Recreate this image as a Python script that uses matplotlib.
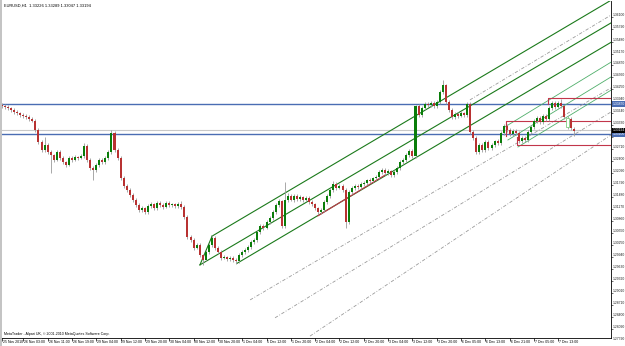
import matplotlib
matplotlib.use("Agg")
import matplotlib.pyplot as plt
import numpy as np
from matplotlib.patches import Rectangle

# EURUSD H1 candles, 25 Nov 2010 .. 7 Dec 2010
opens = [
    1.3385, 1.3382, 1.3380, 1.3377, 1.3372, 1.3367, 1.3364, 1.3359, 1.3357, 1.3354,
    1.3349, 1.3344, 1.3321, 1.3290, 1.3269, 1.3282, 1.3264, 1.3256, 1.3244, 1.3264,
    1.3249, 1.3238, 1.3231, 1.3249, 1.3244, 1.3251, 1.3249, 1.3254, 1.3280, 1.3244,
    1.3223, 1.3218, 1.3231, 1.3244, 1.3238, 1.3249, 1.3264, 1.3313, 1.3269, 1.3249,
    1.3197, 1.3177, 1.3167, 1.3154, 1.3141, 1.3128, 1.3115, 1.3120, 1.3110, 1.3125,
    1.3130, 1.3120, 1.3133, 1.3128, 1.3123, 1.3133, 1.3128, 1.3130, 1.3125, 1.3130,
    1.3123, 1.3097, 1.3046, 1.3038, 1.3018, 1.3025, 1.2999, 1.2987, 1.3007, 1.3025,
    1.3043, 1.3018, 1.3007, 1.2992, 1.2994, 1.2989, 1.2992, 1.2987, 1.2984, 1.2999,
    1.3007, 1.3012, 1.3020, 1.3033, 1.3038, 1.3059, 1.3074, 1.3069, 1.3084, 1.3095,
    1.3110, 1.3128, 1.3138, 1.3074, 1.3141, 1.3151, 1.3141, 1.3151, 1.3143, 1.3148,
    1.3141, 1.3146, 1.3136, 1.3130, 1.3120, 1.3110, 1.3115, 1.3136, 1.3151, 1.3167,
    1.3182, 1.3172, 1.3177, 1.3167, 1.3084, 1.3161, 1.3172, 1.3177, 1.3174, 1.3182,
    1.3185, 1.3192, 1.3190, 1.3197, 1.3200, 1.3213, 1.3218, 1.3210, 1.3215, 1.3205,
    1.3213, 1.3223, 1.3238, 1.3244, 1.3256, 1.3267, 1.3254, 1.3382, 1.3359, 1.3377,
    1.3388, 1.3385, 1.3390, 1.3382, 1.3393, 1.3418, 1.3436, 1.3393, 1.3372, 1.3354,
    1.3362, 1.3357, 1.3364, 1.3359, 1.3388, 1.3316, 1.3300, 1.3264, 1.3282, 1.3269,
    1.3290, 1.3274, 1.3282, 1.3292, 1.3287, 1.3313, 1.3331, 1.3321, 1.3310, 1.3318,
    1.3313, 1.3292, 1.3300, 1.3295, 1.3316, 1.3328, 1.3344, 1.3352, 1.3341, 1.3357,
    1.3349, 1.3377, 1.3390, 1.3380, 1.3390, 1.3382, 1.3328, 1.3349, 1.3323,
]
highs = [
    1.3390, 1.3387, 1.3384, 1.3381, 1.3377, 1.3371, 1.3368, 1.3364, 1.3361, 1.3358,
    1.3353, 1.3348, 1.3326, 1.3296, 1.3303, 1.3287, 1.3270, 1.3260, 1.3270, 1.3268,
    1.3254, 1.3242, 1.3254, 1.3253, 1.3256, 1.3255, 1.3258, 1.3288, 1.3285, 1.3248,
    1.3228, 1.3236, 1.3248, 1.3249, 1.3253, 1.3269, 1.3320, 1.3318, 1.3274, 1.3253,
    1.3202, 1.3182, 1.3171, 1.3158, 1.3146, 1.3132, 1.3126, 1.3124, 1.3131, 1.3135,
    1.3134, 1.3138, 1.3137, 1.3132, 1.3138, 1.3137, 1.3134, 1.3134, 1.3135, 1.3138,
    1.3128, 1.3101, 1.3052, 1.3042, 1.3031, 1.3029, 1.3003, 1.3012, 1.3030, 1.3051,
    1.3047, 1.3022, 1.3011, 1.2999, 1.2998, 1.2997, 1.2996, 1.2991, 1.3004, 1.3011,
    1.3017, 1.3024, 1.3037, 1.3043, 1.3063, 1.3079, 1.3078, 1.3089, 1.3099, 1.3115,
    1.3133, 1.3143, 1.3142, 1.3187, 1.3158, 1.3155, 1.3156, 1.3155, 1.3153, 1.3152,
    1.3151, 1.3150, 1.3140, 1.3134, 1.3124, 1.3120, 1.3140, 1.3156, 1.3171, 1.3190,
    1.3186, 1.3182, 1.3181, 1.3171, 1.3166, 1.3176, 1.3182, 1.3181, 1.3186, 1.3190,
    1.3196, 1.3197, 1.3201, 1.3205, 1.3217, 1.3223, 1.3222, 1.3220, 1.3219, 1.3218,
    1.3227, 1.3243, 1.3248, 1.3261, 1.3271, 1.3272, 1.3386, 1.3387, 1.3382, 1.3393,
    1.3392, 1.3395, 1.3394, 1.3398, 1.3423, 1.3449, 1.3440, 1.3397, 1.3376, 1.3367,
    1.3366, 1.3369, 1.3368, 1.3393, 1.3392, 1.3321, 1.3304, 1.3287, 1.3286, 1.3295,
    1.3294, 1.3287, 1.3296, 1.3297, 1.3317, 1.3336, 1.3335, 1.3326, 1.3322, 1.3323,
    1.3317, 1.3305, 1.3304, 1.3320, 1.3333, 1.3348, 1.3357, 1.3356, 1.3362, 1.3361,
    1.3382, 1.3394, 1.3395, 1.3394, 1.3400, 1.3386, 1.3357, 1.3353, 1.3329,
]
lows = [
    1.3378, 1.3375, 1.3373, 1.3367, 1.3363, 1.3359, 1.3355, 1.3352, 1.3350, 1.3344,
    1.3340, 1.3316, 1.3285, 1.3264, 1.3265, 1.3259, 1.3210, 1.3239, 1.3240, 1.3244,
    1.3233, 1.3226, 1.3227, 1.3239, 1.3240, 1.3244, 1.3245, 1.3249, 1.3239, 1.3218,
    1.3192, 1.3213, 1.3226, 1.3233, 1.3234, 1.3244, 1.3259, 1.3264, 1.3244, 1.3192,
    1.3172, 1.3162, 1.3149, 1.3136, 1.3123, 1.3110, 1.3111, 1.3105, 1.3106, 1.3120,
    1.3115, 1.3116, 1.3123, 1.3118, 1.3119, 1.3123, 1.3124, 1.3120, 1.3121, 1.3118,
    1.3092, 1.3041, 1.3033, 1.3013, 1.3014, 1.2994, 1.2974, 1.2983, 1.3002, 1.3020,
    1.3013, 1.3002, 1.2987, 1.2988, 1.2984, 1.2985, 1.2982, 1.2976, 1.2980, 1.2994,
    1.3002, 1.3008, 1.3015, 1.3028, 1.3034, 1.3054, 1.3064, 1.3065, 1.3079, 1.3090,
    1.3105, 1.3123, 1.3069, 1.3070, 1.3136, 1.3137, 1.3136, 1.3138, 1.3139, 1.3136,
    1.3137, 1.3131, 1.3125, 1.3115, 1.3105, 1.3106, 1.3110, 1.3131, 1.3146, 1.3162,
    1.3167, 1.3168, 1.3162, 1.3069, 1.3080, 1.3156, 1.3167, 1.3169, 1.3170, 1.3177,
    1.3180, 1.3185, 1.3186, 1.3192, 1.3195, 1.3208, 1.3205, 1.3206, 1.3200, 1.3201,
    1.3208, 1.3218, 1.3233, 1.3239, 1.3251, 1.3248, 1.3248, 1.3354, 1.3355, 1.3372,
    1.3380, 1.3381, 1.3377, 1.3378, 1.3388, 1.3413, 1.3388, 1.3367, 1.3349, 1.3350,
    1.3352, 1.3353, 1.3354, 1.3355, 1.3311, 1.3295, 1.3259, 1.3260, 1.3264, 1.3265,
    1.3269, 1.3270, 1.3277, 1.3282, 1.3283, 1.3308, 1.3316, 1.3305, 1.3306, 1.3308,
    1.3287, 1.3288, 1.3290, 1.3291, 1.3311, 1.3323, 1.3339, 1.3336, 1.3337, 1.3344,
    1.3345, 1.3372, 1.3375, 1.3376, 1.3377, 1.3349, 1.3323, 1.3321, 1.3305,
]
closes = [
    1.3382, 1.3380, 1.3377, 1.3372, 1.3367, 1.3364, 1.3359, 1.3357, 1.3354, 1.3349,
    1.3344, 1.3321, 1.3290, 1.3269, 1.3282, 1.3264, 1.3256, 1.3244, 1.3264, 1.3249,
    1.3238, 1.3231, 1.3249, 1.3244, 1.3251, 1.3249, 1.3254, 1.3280, 1.3244, 1.3223,
    1.3218, 1.3231, 1.3244, 1.3238, 1.3249, 1.3264, 1.3313, 1.3269, 1.3249, 1.3197,
    1.3177, 1.3167, 1.3154, 1.3141, 1.3128, 1.3115, 1.3120, 1.3110, 1.3125, 1.3130,
    1.3120, 1.3133, 1.3128, 1.3123, 1.3133, 1.3128, 1.3130, 1.3125, 1.3130, 1.3123,
    1.3097, 1.3046, 1.3038, 1.3018, 1.3025, 1.2999, 1.2987, 1.3007, 1.3025, 1.3043,
    1.3018, 1.3007, 1.2992, 1.2994, 1.2989, 1.2992, 1.2987, 1.2984, 1.2999, 1.3007,
    1.3012, 1.3020, 1.3033, 1.3038, 1.3059, 1.3074, 1.3069, 1.3084, 1.3095, 1.3110,
    1.3128, 1.3138, 1.3074, 1.3141, 1.3151, 1.3141, 1.3151, 1.3143, 1.3148, 1.3141,
    1.3146, 1.3136, 1.3130, 1.3120, 1.3110, 1.3115, 1.3136, 1.3151, 1.3167, 1.3182,
    1.3172, 1.3177, 1.3167, 1.3084, 1.3161, 1.3172, 1.3177, 1.3174, 1.3182, 1.3185,
    1.3192, 1.3190, 1.3197, 1.3200, 1.3213, 1.3218, 1.3210, 1.3215, 1.3205, 1.3213,
    1.3223, 1.3238, 1.3244, 1.3256, 1.3267, 1.3254, 1.3382, 1.3359, 1.3377, 1.3388,
    1.3385, 1.3390, 1.3382, 1.3393, 1.3418, 1.3436, 1.3393, 1.3372, 1.3354, 1.3362,
    1.3357, 1.3364, 1.3359, 1.3388, 1.3316, 1.3300, 1.3264, 1.3282, 1.3269, 1.3290,
    1.3274, 1.3282, 1.3292, 1.3287, 1.3313, 1.3331, 1.3321, 1.3310, 1.3318, 1.3313,
    1.3292, 1.3300, 1.3295, 1.3316, 1.3328, 1.3344, 1.3352, 1.3341, 1.3357, 1.3349,
    1.3377, 1.3390, 1.3380, 1.3390, 1.3382, 1.3354, 1.3352, 1.3326, 1.3319,
]
hollow_bar = 186

time_tick_bars = [0, 7, 15, 23, 31, 39, 47, 55, 63, 71, 79, 87, 95, 103, 111,
                  119, 127, 135, 143, 151, 159, 167, 175, 183]
time_labels = ["25 Nov 2010", "26 Nov 03:00", "26 Nov 11:00", "26 Nov 19:00",
               "29 Nov 04:00", "29 Nov 12:00", "29 Nov 20:00", "30 Nov 04:00",
               "30 Nov 12:00", "30 Nov 20:00", "1 Dec 04:00", "1 Dec 12:00",
               "1 Dec 20:00", "2 Dec 04:00", "2 Dec 12:00", "2 Dec 20:00",
               "3 Dec 04:00", "3 Dec 12:00", "3 Dec 20:00", "6 Dec 05:00",
               "6 Dec 13:00", "6 Dec 21:00", "7 Dec 05:00", "7 Dec 13:00"]
price_ticks = [1.27790, 1.28090, 1.28400, 1.28710, 1.29010, 1.29320, 1.29630,
               1.29940, 1.30250, 1.30550, 1.30860, 1.31170, 1.31480, 1.31790,
               1.32090, 1.32400, 1.32710, 1.33020, 1.33330, 1.33640, 1.33940,
               1.34250, 1.34560, 1.34870, 1.35170, 1.35480, 1.35790, 1.36100]

bid = 1.33194
blue_levels = [1.3387, 1.3310]

# trend lines as (bar, price) anchors; rays run on to the right edge
pitchfork_handle = [(65.1, 1.2974), (69.1, 1.3048)]
green_rays = [
    [(69.1, 1.3048), (137.5, 1.3364)],
    [(65.1, 1.2974), (137.5, 1.3307)],
    [(77.3, 1.2978), (137.5, 1.3256)],
]
light_green_rays = [
    [(165.5, 1.3329), (200.3, 1.3495)],
    [(166.4, 1.3295), (200.3, 1.3457)],
    [(169.7, 1.3277), (200.3, 1.3423)],
]
dashdot_rays = [
    [(153.9, 1.3398), (200.3, 1.3616)],
    [(81.6, 1.2884), (200.3, 1.3429)],
    [(89.8, 1.2838), (200.3, 1.3367)],
    [(101.3, 1.2791), (200.3, 1.3308)],
]
red_segment = [(103.9, 1.3100), (126.0, 1.3205)]
red_steps = [
    [(179.6, 1.3388), (179.6, 1.3403), (200.3, 1.3403)],
    [(165.8, 1.3305), (165.8, 1.3344), (200.3, 1.3344)],
    [(169.4, 1.3303), (169.4, 1.3282), (200.3, 1.3282)],
]

BULL = "#0a7d0a"
BEAR = "#b83232"
WICK = "#9a9a9a"
DKGREEN = "#1b7a1b"
LTGREEN = "#4fae6a"
BLUE = "#4a6db3"
RED = "#c2364a"
FONT = "Liberation Sans"

X0, X1 = -0.66, 200.3
Y0, Y1 = 1.27861, 1.36522

fig = plt.figure(figsize=(6.25, 3.46), dpi=100)
fig.patch.set_facecolor("white")
# window border on the left edge
fig.patches.append(Rectangle((0, 0), 2 / 625, 1, transform=fig.transFigure,
                             facecolor="#c4c4c4", edgecolor="none", zorder=10))
ax = fig.add_axes([0.0, 8 / 346, 611 / 625, 337 / 346])
ax.set_xlim(X0, X1)
ax.set_ylim(Y0, Y1)


def draw_ray(pts, **kw):
    (xa, ya), (xb, yb) = pts
    slope = (yb - ya) / (xb - xa)
    ax.plot([xa, X1], [ya, ya + slope * (X1 - xa)], **kw)


# horizontal levels
ax.axhline(bid, color="#c8c8c8", lw=0.8, zorder=1)
for lvl in blue_levels:
    ax.axhline(lvl, color=BLUE, lw=1.0, zorder=1)

for pts in dashdot_rays:
    draw_ray(pts, color="#9a9a9a", lw=0.6, ls=(0, (4, 2, 1, 2)), zorder=1)
for pts in green_rays:
    draw_ray(pts, color=DKGREEN, lw=0.8, zorder=2)
for pts in light_green_rays:
    draw_ray(pts, color=LTGREEN, lw=0.6, zorder=2)
ax.plot(*zip(*pitchfork_handle), color=DKGREEN, lw=0.8, zorder=2)
ax.plot(*zip(*red_segment), color=RED, lw=0.8, zorder=2)
for pts in red_steps:
    ax.plot(*zip(*pts), color=RED, lw=0.8, zorder=2)

# candles
o = np.array(opens)
h = np.array(highs)
l = np.array(lows)
c = np.array(closes)
idx = np.arange(len(c))
ax.vlines(idx, l, h, color=WICK, lw=0.6, zorder=3)
up = c >= o
body_lo = np.minimum(o, c)
body_h = np.maximum(np.abs(c - o), 0.00008)
for i in idx:
    if i == hollow_bar:
        ax.bar(i, body_h[i], bottom=body_lo[i], width=0.7, facecolor="white",
               edgecolor="#7fcf7f", lw=0.6, zorder=4)
    else:
        ax.bar(i, body_h[i], bottom=body_lo[i], width=0.66,
               color=BULL if up[i] else BEAR, lw=0, zorder=4)

# axes frame
for side in ("left", "top"):
    ax.spines[side].set_visible(False)
for side in ("right", "bottom"):
    ax.spines[side].set_color("black")
    ax.spines[side].set_linewidth(0.6)
ax.set_xticks(time_tick_bars)
ax.set_xticklabels([])
ax.set_yticks([p for p in price_ticks if Y0 < p < Y1])
ax.set_yticklabels([])
ax.tick_params(axis="x", length=2, width=0.5, color="black")
ax.tick_params(axis="y", length=1.2, width=0.4, right=True, left=False,
               direction="out", color="black")

ytr = ax.get_yaxis_transform()
for p in price_ticks:
    ax.text(1.0025, p, f"{p:.5f}", transform=ytr, fontsize=2.4, va="bottom",
            ha="left", color="#202020", clip_on=False, family=FONT)

for lvl in blue_levels:
    ax.text(1.0025, lvl, f"{lvl:.5f}", transform=ytr, fontsize=2.4, va="center",
            ha="left", color="white", clip_on=False, family=FONT,
            bbox=dict(facecolor=BLUE, edgecolor="none", pad=0.5), zorder=6)
ax.text(1.0025, bid, f"{bid:.5f}", transform=ytr, fontsize=2.4, va="center",
        ha="left", color="white", clip_on=False, family=FONT,
        bbox=dict(facecolor="black", edgecolor="none", pad=0.5), zorder=6)

xtr = ax.get_xaxis_transform()
for b, lab in zip(time_tick_bars, time_labels):
    ax.text(b + 0.3, -0.012, lab, transform=xtr, fontsize=2.5, va="center",
            ha="left", color="black", clip_on=False, family=FONT)

ax.text(0.006, 0.992, "EURUSD,H1  1.33226 1.33289 1.33047 1.33194",
        transform=ax.transAxes, fontsize=2.9, va="top", ha="left", family=FONT)
ax.text(0.006, 0.006, "MetaTrader - Alpari UK, \u00a9 2001-2010 MetaQuotes Software Corp.",
        transform=ax.transAxes, fontsize=2.6, va="bottom", ha="left", family=FONT)

fig.savefig("out.png", dpi=100, facecolor="white")
